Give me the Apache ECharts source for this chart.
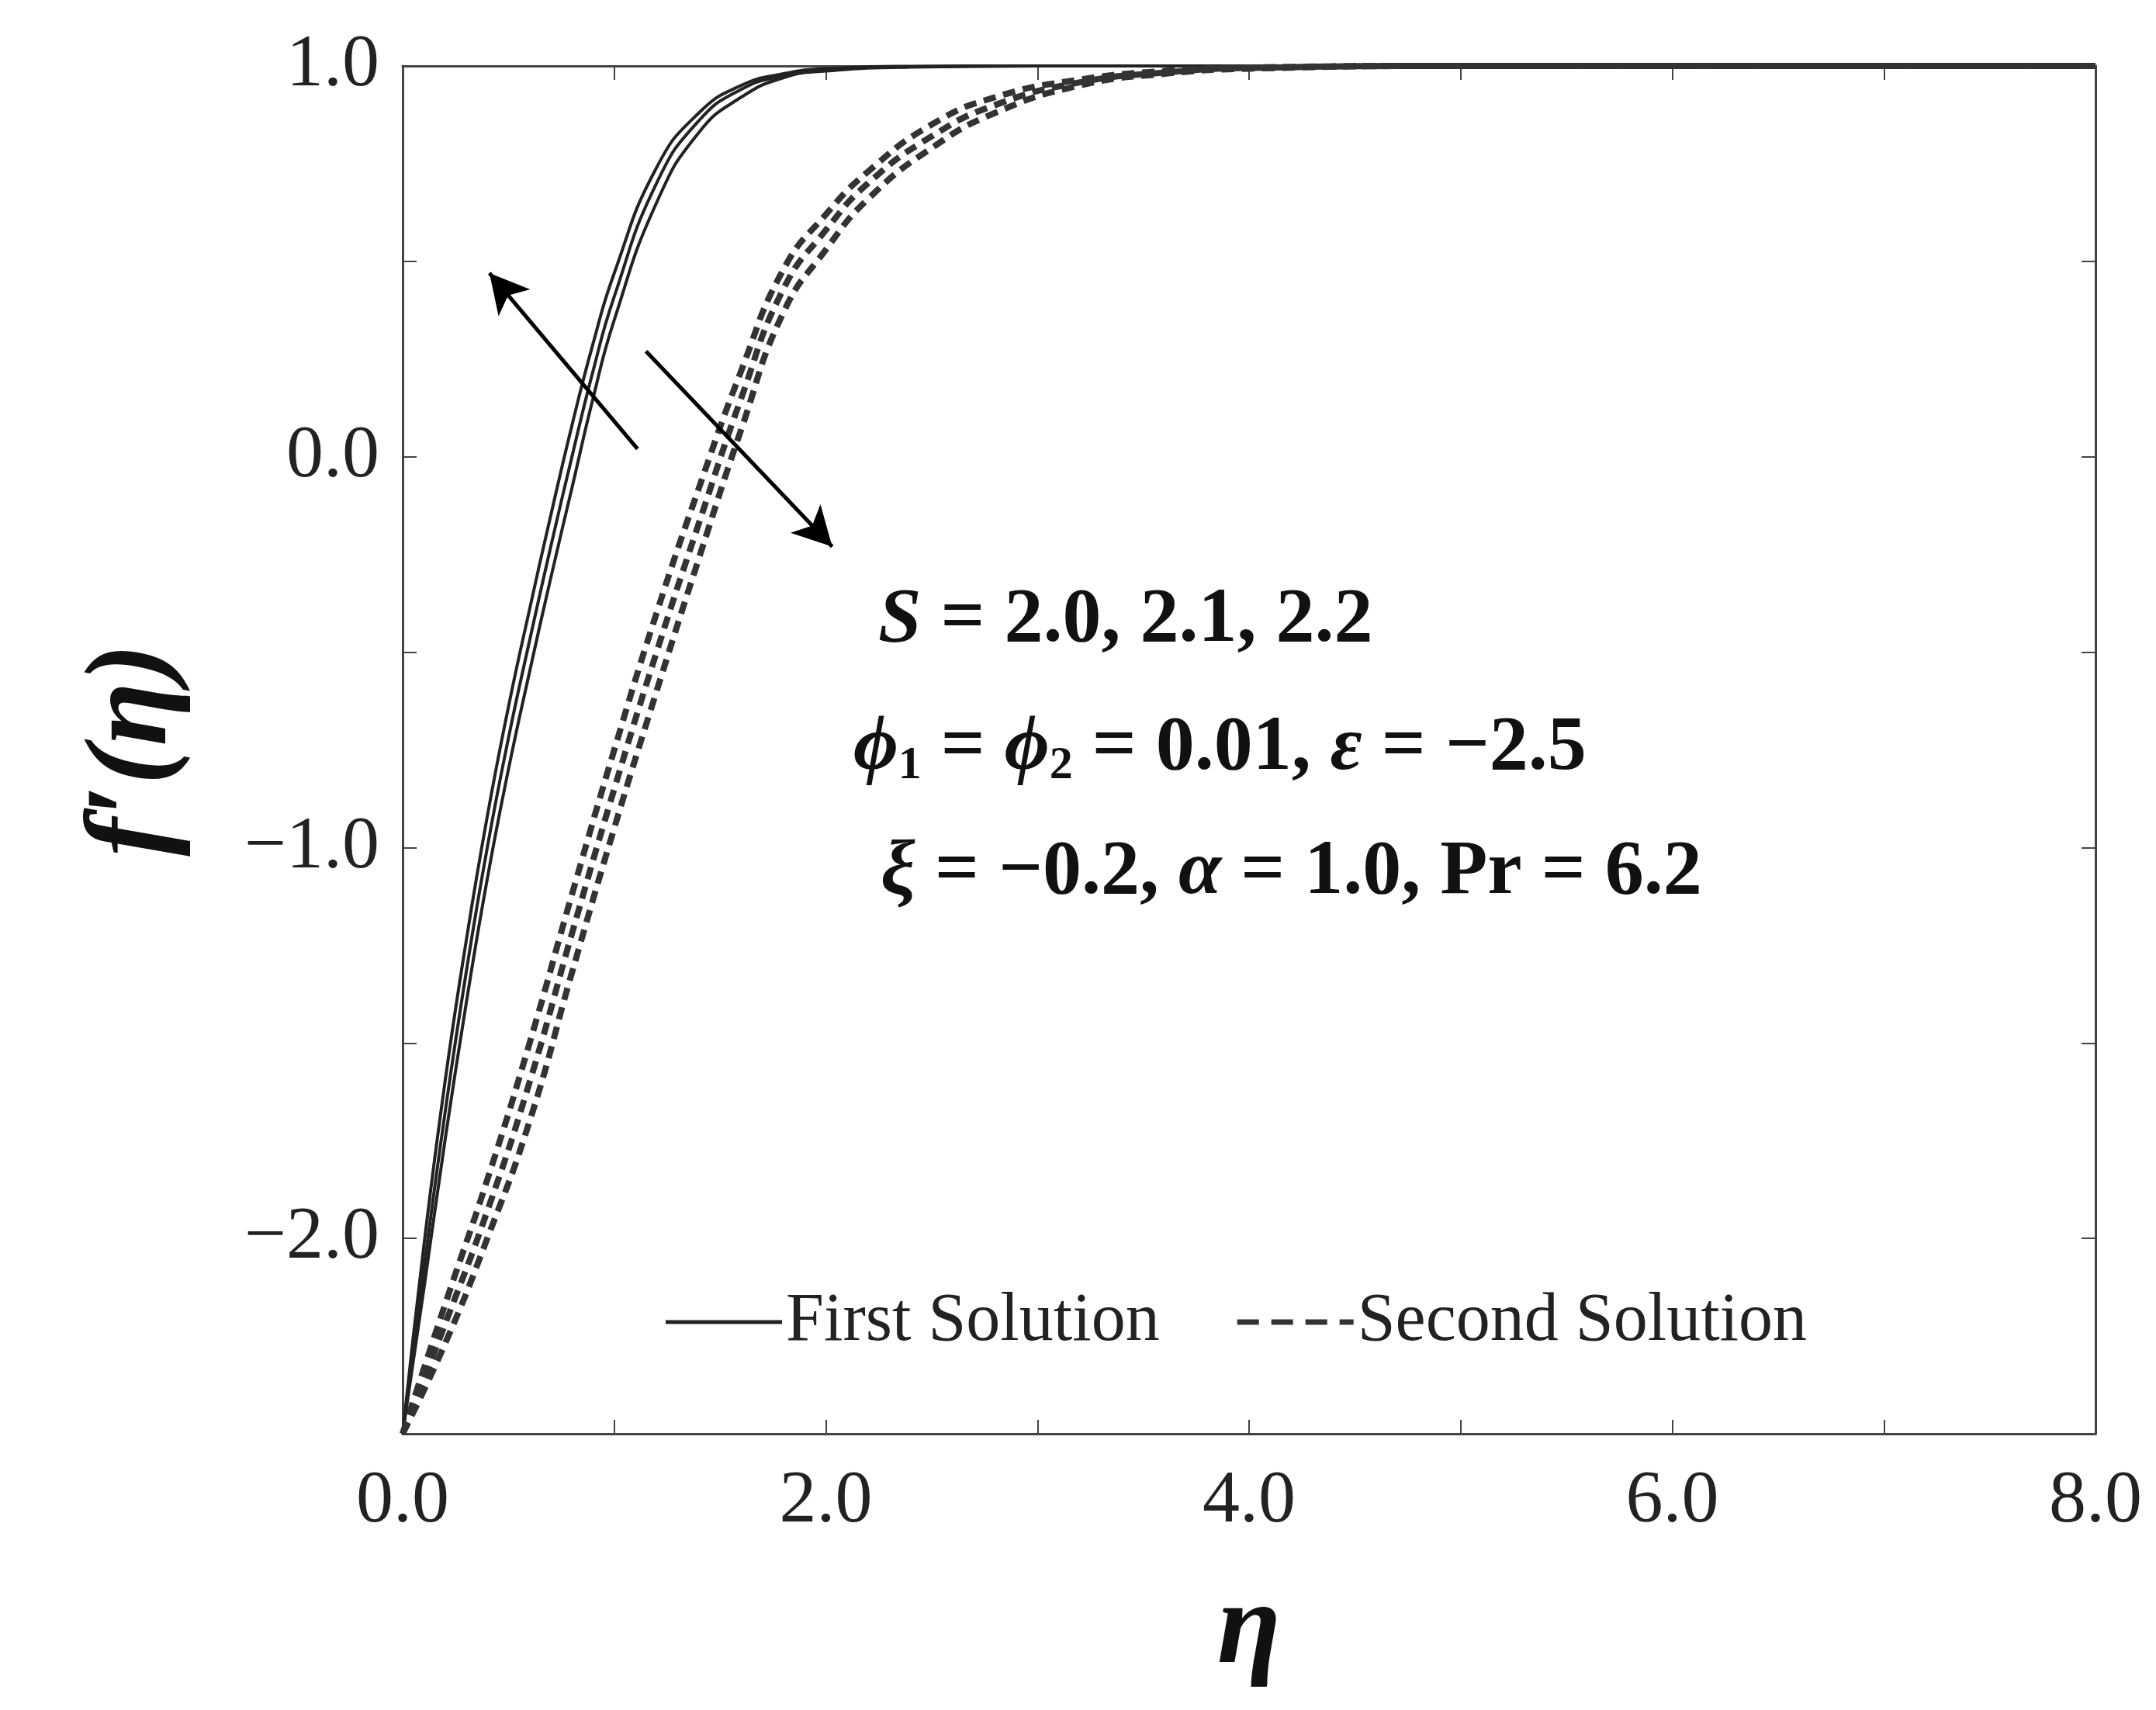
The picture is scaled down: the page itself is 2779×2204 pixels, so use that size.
<!DOCTYPE html>
<html><head><meta charset="utf-8">
<script src="https://cdn.jsdelivr.net/npm/echarts@6/dist/echarts.min.js"></script>
<style>html,body{margin:0;padding:0;background:#fff}#c{width:2779px;height:2204px}</style>
</head><body><div id="c"></div>
<script>
const etaFirst = [0,0.1,0.2,0.3,0.4,0.5,0.6,0.7,0.8,0.9,1.0,1.2,1.4,1.6,1.8,2.0,2.4,3,8];
const firstA = [-2.5,-2.02,-1.6,-1.24,-0.92,-0.64,-0.39,-0.15,0.08,0.29,0.47,0.74,0.88,0.95,0.98,0.993,0.999,1,1];
const firstB = [-2.5,-2.08,-1.68,-1.32,-1.0,-0.72,-0.47,-0.23,0.0,0.22,0.41,0.70,0.86,0.94,0.975,0.99,0.998,1,1];
const firstC = [-2.5,-2.13,-1.75,-1.4,-1.08,-0.8,-0.55,-0.31,-0.08,0.15,0.35,0.65,0.83,0.92,0.97,0.987,0.997,1,1];
const etaSecond = [0,0.2,0.4,0.6,0.8,1.0,1.2,1.4,1.6,1.8,2.0,2.2,2.5,2.8,3.2,3.6,4,5,8];
const secondA = [-2.5,-2.17,-1.85,-1.5,-1.12,-0.75,-0.4,-0.08,0.22,0.48,0.62,0.73,0.85,0.92,0.965,0.987,0.996,1,1];
const secondB = [-2.5,-2.22,-1.93,-1.6,-1.22,-0.85,-0.5,-0.17,0.15,0.43,0.58,0.7,0.82,0.9,0.958,0.983,0.995,1,1];
const secondC = [-2.5,-2.27,-2.0,-1.7,-1.32,-0.95,-0.6,-0.26,0.07,0.37,0.53,0.66,0.79,0.88,0.95,0.98,0.993,1,1];
const xTickLabels = ['0.0','2.0','4.0','6.0','8.0'];
const yTickLabels = ['−2.0','−1.0','0.0','1.0'];

const F = 'Liberation Serif';
const pair = (xs, ys) => xs.map((x,i)=>[x,ys[i]]);
const solid = (d) => ({type:'line',name:'First Solution',data:d,showSymbol:false,smooth:true,
  lineStyle:{color:'#222',width:4},itemStyle:{color:'#222'},z:3});
const dashed = (d) => ({type:'line',name:'Second Solution',data:d,showSymbol:false,smooth:true,
  lineStyle:{color:'#333',width:8,type:[16,10]},itemStyle:{color:'#333'},z:3});
const axisCommon = {axisLine:{onZero:false,lineStyle:{color:'#444',width:3}},axisTick:{inside:true,length:18,lineStyle:{color:'#444',width:2}},splitLine:{show:false}};
const arrowLine = (a,b) => ({type:'line',data:[],markLine:{silent:true,symbol:['none','arrow'],symbolSize:[40,50],
  lineStyle:{color:'#000',width:5,type:'solid'},label:{show:false},data:[[{coord:a},{coord:b}]]}});

const chart = echarts.init(document.getElementById('c'));
chart.setOption({
  animation:false,
  grid:{left:519,right:78,top:85,bottom:356},
  xAxis:[
    Object.assign({type:'value',min:0,max:8,interval:1,position:'bottom',
      axisLabel:{fontFamily:F,fontSize:96,color:'#222',margin:40,
        formatter:v=> v%2===0 ? xTickLabels[v/2] : ''},
      name:'η',nameLocation:'middle',nameGap:180,
      nameTextStyle:{fontFamily:F,fontSize:150,fontStyle:'italic',fontWeight:'bold',color:'#111'}},axisCommon),
    Object.assign({type:'value',min:0,max:8,interval:1,position:'top',axisLabel:{show:false}},axisCommon)
  ],
  yAxis:[
    Object.assign({type:'value',min:-2.5,max:1,interval:0.5,position:'left',
      axisLabel:{fontFamily:F,fontSize:96,color:'#222',margin:30,
        formatter:v=> Number.isInteger(v) ? yTickLabels[v+2] : ''},
      name:"f′(η)",nameLocation:'middle',nameGap:270,
      nameTextStyle:{fontFamily:F,fontSize:150,fontStyle:'italic',fontWeight:'bold',color:'#111'}},axisCommon),
    Object.assign({type:'value',min:-2.5,max:1,interval:0.5,position:'right',axisLabel:{show:false}},axisCommon)
  ],
  legend:{left:853,top:1655,itemWidth:150,itemHeight:20,itemGap:100,
    textStyle:{fontFamily:F,fontSize:88,color:'#222'},
    data:[{name:'First Solution',icon:'path://M0,8 L150,8 L150,13 L0,13 Z'},
          {name:'Second Solution',icon:'path://M0,7h28v7h-28z M44,7h28v7h-28z M88,7h28v7h-28z M132,7h18v7h-18z'}]},
  series:[
    solid(pair(etaFirst,firstA)),solid(pair(etaFirst,firstB)),solid(pair(etaFirst,firstC)),
    dashed(pair(etaSecond,secondA)),dashed(pair(etaSecond,secondB)),dashed(pair(etaSecond,secondC)),
    arrowLine([1.11,0.02],[0.41,0.47]),
    arrowLine([1.15,0.27],[2.03,-0.23])
  ],
  graphic:[
    {type:'text',left:1132,top:750,style:{rich:{i:{fontFamily:F,fontSize:100,fontStyle:'italic',fontWeight:'bold'},b:{fontFamily:F,fontSize:100,fontWeight:'bold'}},
      text:'{i|S}{b| = 2.0, 2.1, 2.2}',fill:'#111'}},
    {type:'text',left:1100,top:915,style:{rich:{i:{fontFamily:F,fontSize:100,fontStyle:'italic',fontWeight:'bold'},b:{fontFamily:F,fontSize:100,fontWeight:'bold'},s:{fontFamily:F,fontSize:60,fontWeight:'bold',verticalAlign:'bottom',padding:[45,0,0,0]}},
      text:'{i|ϕ}{s|1}{b| = }{i|ϕ}{s|2}{b| = 0.01, }{i|ε}{b| = −2.5}',fill:'#111'}},
    {type:'text',left:1135,top:1075,style:{rich:{i:{fontFamily:F,fontSize:100,fontStyle:'italic',fontWeight:'bold'},b:{fontFamily:F,fontSize:100,fontWeight:'bold'}},
      text:'{i|ξ}{b| = −0.2, }{i|α}{b| = 1.0, Pr = 6.2}',fill:'#111'}}
  ]
});
</script></body></html>
